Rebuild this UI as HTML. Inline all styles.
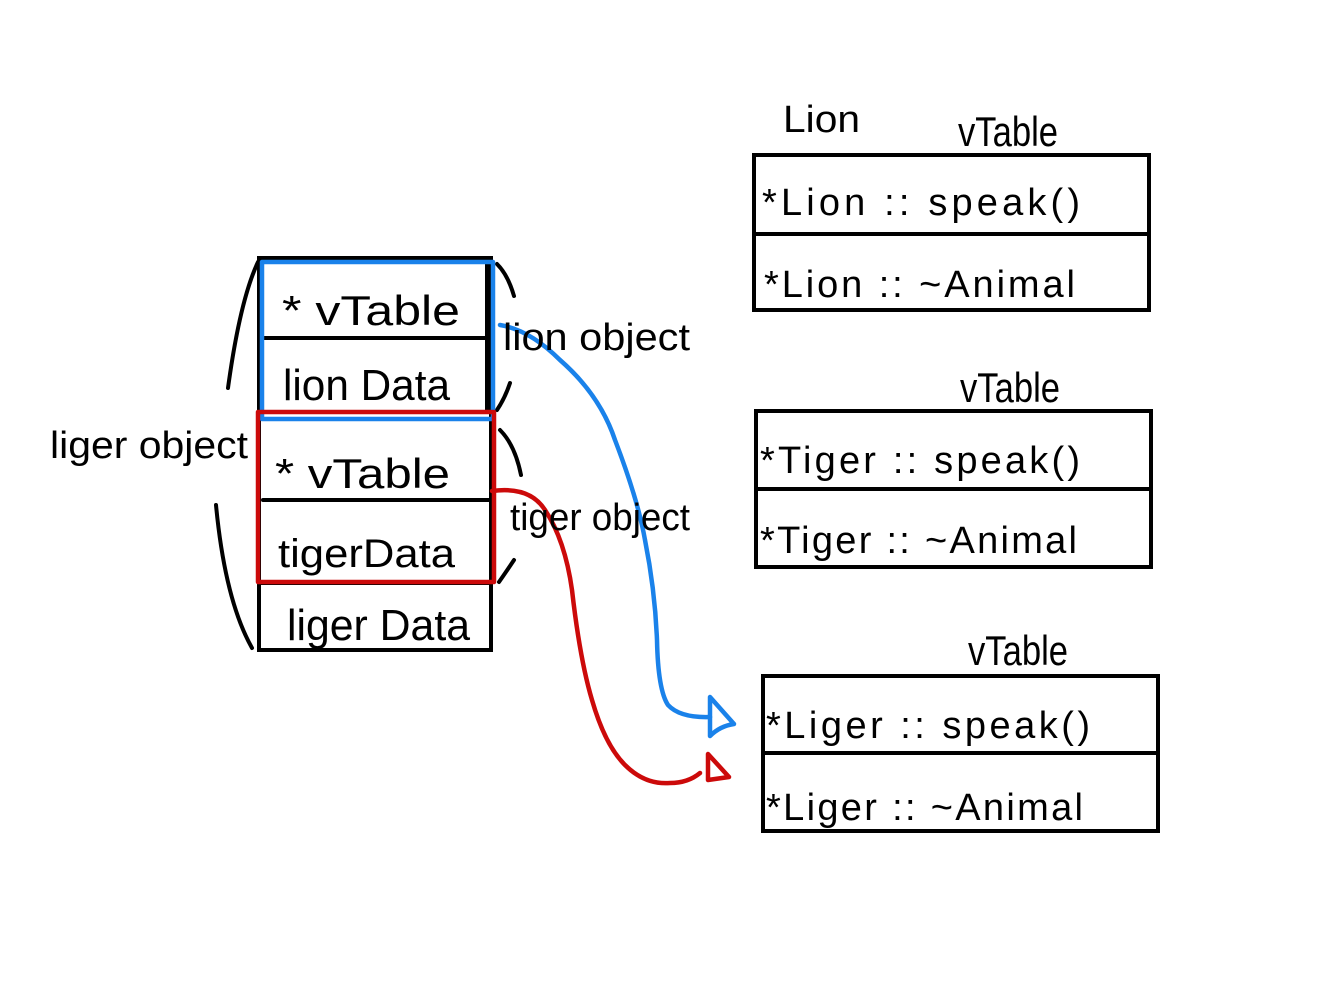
<!DOCTYPE html>
<html><head><meta charset="utf-8"><style>
html,body{margin:0;padding:0;background:#fff;}
svg{display:block}
text{font-family:"Liberation Sans",sans-serif;fill:#000;}
</style></head><body>
<svg width="1331" height="999" viewBox="0 0 1331 999" xmlns="http://www.w3.org/2000/svg">
<g fill="none" stroke="#000" stroke-width="4" stroke-linecap="round">
  <rect x="259" y="258" width="232" height="392"/>
  <line x1="487" y1="262" x2="487" y2="410"/>
  <line x1="263" y1="338" x2="486" y2="338"/>
  <line x1="263" y1="500" x2="490" y2="500"/>
  <line x1="259" y1="583" x2="491" y2="583"/>
  <path d="M258 262 Q240 300 228 388"/>
  <path d="M216 505 Q225 600 252 648"/>
  <path d="M497 264 Q508 275 514 296"/>
  <path d="M510 383 Q505 398 497 410"/>
  <path d="M500 430 Q515 445 521 475"/>
  <path d="M514 560 Q506 572 499 582"/>
  <rect x="754" y="155" width="395" height="155"/>
  <line x1="754" y1="234" x2="1149" y2="234"/>
  <rect x="756" y="411" width="395" height="156"/>
  <line x1="756" y1="489" x2="1151" y2="489"/>
  <rect x="763" y="676" width="395" height="155"/>
  <line x1="763" y1="753" x2="1158" y2="753"/>
</g>
<g fill="none" stroke="#1a82ea" stroke-width="4.5" stroke-linejoin="round" stroke-linecap="round">
  <rect x="262" y="262" width="231" height="157"/>
  <path d="M500 325 Q530 330 560 360 Q600 395 615 440 Q638 500 645 540 Q655 590 657 640 Q658 690 668 705 Q680 718 710 717"/>
  <path d="M710 697 L710 736 Q720 726 734 724 Z"/>
</g>
<g fill="none" stroke="#cc0a0a" stroke-width="4.5" stroke-linejoin="round" stroke-linecap="round">
  <rect x="258" y="412" width="236" height="170"/>
  <path d="M492 491 Q530 486 545 510 Q565 540 572 590 Q580 660 592 700 Q605 745 625 765 Q645 785 670 783 Q688 783 700 773"/>
  <path d="M708 754 L708 780 L729 777 Z"/>
</g>
<g font-size="42" lengthAdjust="spacingAndGlyphs">
  <text x="282" y="325" textLength="178" lengthAdjust="spacingAndGlyphs">* vTable</text>
  <text x="283" y="400" font-size="44" textLength="167" lengthAdjust="spacingAndGlyphs">lion Data</text>
  <text x="275" y="488" textLength="175" lengthAdjust="spacingAndGlyphs">* vTable</text>
  <text x="278" y="567" font-size="40" textLength="177" lengthAdjust="spacingAndGlyphs">tigerData</text>
  <text x="287" y="640" font-size="44" textLength="183" lengthAdjust="spacingAndGlyphs">liger Data</text>
</g>
<g font-size="38">
  <text x="50" y="458" textLength="198" lengthAdjust="spacingAndGlyphs">liger object</text>
  <text x="503" y="350" textLength="187" lengthAdjust="spacingAndGlyphs">lion object</text>
  <text x="510" y="530" textLength="180" lengthAdjust="spacingAndGlyphs">tiger object</text>
  <text x="783" y="132" textLength="77" lengthAdjust="spacingAndGlyphs">Lion</text>
  <text x="958" y="146" font-size="42" textLength="100" lengthAdjust="spacingAndGlyphs">vTable</text>
  <text x="960" y="402" font-size="42" textLength="100" lengthAdjust="spacingAndGlyphs">vTable</text>
  <text x="968" y="665" font-size="42" textLength="100" lengthAdjust="spacingAndGlyphs">vTable</text>
  <text x="762" y="215" textLength="318" lengthAdjust="spacing">*Lion  ::  speak()</text>
  <text x="764" y="297" textLength="311" lengthAdjust="spacing">*Lion  ::  ~Animal</text>
  <text x="760" y="473" textLength="320" lengthAdjust="spacing">*Tiger  ::  speak()</text>
  <text x="760" y="553" textLength="317" lengthAdjust="spacing">*Tiger  ::  ~Animal</text>
  <text x="766" y="738" textLength="324" lengthAdjust="spacing">*Liger  ::  speak()</text>
  <text x="766" y="820" textLength="317" lengthAdjust="spacing">*Liger  ::  ~Animal</text>
</g>
</svg>
</body></html>
